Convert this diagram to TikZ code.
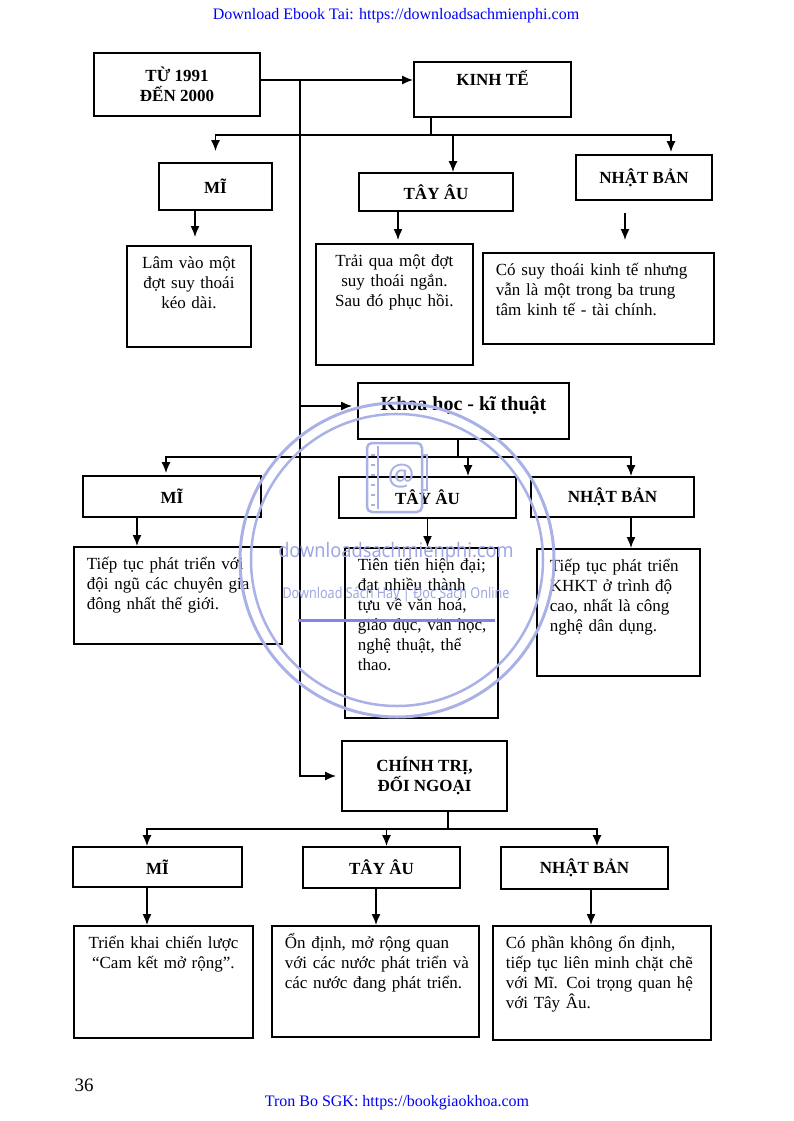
\documentclass[tikz,border=0pt]{standalone}
\usepackage{fontspec}
\setmainfont{Liberation Serif}
\newfontfamily\dauanfont{Noto Sans}
\usepackage{xcolor}
\usetikzlibrary{arrows.meta,calc}
\definecolor{dauan}{RGB}{170,177,230}
\definecolor{dauanchu}{RGB}{158,166,228}
\definecolor{xanh}{RGB}{0,0,245}
\newcommand{\dong}[1]{\makebox[\linewidth][s]{#1}}

\begin{document}
\begin{tikzpicture}[x=1pt,y=-1pt,
  hop/.style={draw,line width=1.8pt,inner sep=0pt,align=center,font=\bfseries\fontsize{17}{20}\selectfont},
  noidung/.style={draw,line width=1.8pt,anchor=north west,inner xsep=13pt,inner ysep=0pt,text height=23pt,font=\fontsize{17}{20}\selectfont},
  noi/.style={line width=1.5pt},
  muiten/.style={noi,-{Latex[length=11pt,width=9pt]}}]
  \useasboundingbox (0,0) rectangle (793,1121);
  \node[text=xanh,font=\fontsize{16}{18}\selectfont] (dau) at (396,16) {Download Ebook Tai: https://downloadsachmienphi.com};
  \node[text=xanh,font=\fontsize{16}{18}\selectfont] (cuoi) at (397,1103) {Tron Bo SGK: https://bookgiaokhoa.com};
  \node[font=\fontsize{19}{20}\selectfont] (trang) at (84,1085) {36};

  \node[hop,minimum width=166,minimum height=63] (goc) at (177,84.5) {TỪ 1991\\ĐẾN 2000};
  \node[hop,minimum width=157,minimum height=55,text height=12pt,text depth=19pt] (kinhte) at (492.5,89.5) {KINH TẾ};
  \node[hop,minimum width=113,minimum height=47] (mi1) at (215.5,186.5) {MĨ};
  \node[hop,minimum width=154,minimum height=38] (tayau1) at (436,192) {TÂY ÂU};
  \node[hop,minimum width=136,minimum height=45] (nhat1) at (644,177.5) {NHẬT BẢN};
  \node[noidung,align=center,text width=98pt,text depth=78pt] (lam) at (126,245) {Lâm vào một\\đợt suy thoái\\kéo dài.};
  \node[noidung,align=center,text width=131pt,text depth=98pt] (traiqua) at (315,243) {Trải qua một đợt\\suy thoái ngắn.\\Sau đó phục hồi.};
  \node[noidung,align=left,text width=205pt,text depth=68pt] (cosuy) at (482,252) {\dong{Có suy thoái kinh tế nhưng}\\\dong{vẫn là một trong ba trung}\\tâm kinh tế - tài chính.};

  \node[hop,minimum width=211,minimum height=56,font=\bfseries\fontsize{20}{22}\selectfont,text height=12pt,text depth=14pt] (khoahoc) at (463.5,411) {Khoa học - kĩ thuật};
  \node[hop,minimum width=178,minimum height=41] (mi2) at (172,496.5) {MĨ};
  \node[hop,minimum width=177,minimum height=41] (tayau2) at (427.5,497.5) {TÂY ÂU};
  \node[hop,minimum width=163,minimum height=40] (nhat2) at (612.5,497) {NHẬT BẢN};
  \node[noidung,align=left,text width=182pt,text depth=74pt] (tieptuc1) at (73,546) {\dong{Tiếp tục phát triển với}\\\dong{đội ngũ các chuyên gia}\\đông nhất thế giới.};
  \node[noidung,align=left,text width=127pt,text depth=147pt] (tientien) at (344,547) {\dong{Tiên tiến hiện đại;}\\\dong{đạt nhiều thành}\\\dong{tựu về văn hoá,}\\\dong{giáo dục, văn học,}\\\dong{nghệ thuật, thể}\\thao.};
  \node[noidung,align=left,text width=137pt,text depth=104pt] (tieptuc2) at (536,548) {\dong{Tiếp tục phát triển}\\\dong{KHKT ở trình độ}\\\dong{cao, nhất là công}\\nghệ dân dụng.};

  \node[hop,minimum width=165,minimum height=70] (chinhtri) at (424.5,776) {CHÍNH TRỊ,\\ĐỐI NGOẠI};
  \node[hop,minimum width=169,minimum height=40] (mi3) at (157.5,867) {MĨ};
  \node[hop,minimum width=157,minimum height=41] (tayau3) at (381.5,867.5) {TÂY ÂU};
  \node[hop,minimum width=167,minimum height=42] (nhat3) at (584.5,868) {NHẬT BẢN};
  \node[noidung,align=center,text width=153pt,text depth=89pt] (trienkhai) at (73,925) {Triển khai chiến lược\\“Cam kết mở rộng”.};
  \node[noidung,align=left,text width=181pt,text depth=88pt] (ondinh) at (271,925) {\dong{Ổn định, mở rộng quan}\\\dong{với các nước phát triển và}\\các nước đang phát triển.};
  \node[noidung,align=left,text width=192pt,text depth=91pt] (cophan) at (492,925) {\dong{Có phần không ổn định,}\\\dong{tiếp tục liên minh chặt chẽ}\\\dong{với Mĩ. Coi trọng quan hệ}\\với Tây Âu.};

  % 主干线
  \coordinate (truc) at (300,80);
  \draw[muiten] (goc.east |- truc) -- (kinhte.west |- truc);
  \draw[muiten,shorten >=5pt] (truc) |- (chinhtri.west);
  \coordinate (k1) at ([yshift=5pt]khoahoc.west);
  \draw[muiten,shorten >=5pt] (truc |- k1) -- (k1);

  % 经济
  \coordinate (nga1) at (431,135);
  \draw[noi] (kinhte.south -| nga1) -- (nga1);
  \draw[muiten,shorten >=11pt] (nga1) -| (mi1.north);
  \draw[muiten] (nga1) -| ([xshift=17pt]tayau1.north);
  \draw[muiten,shorten >=2pt] (nga1) -| ([xshift=27pt]nhat1.north);
  \coordinate (x1) at ([xshift=-20.5pt]mi1.south);
  \coordinate (x2) at ([xshift=-38pt]tayau1.south);
  \coordinate (x3) at ([xshift=-19pt]nhat1.south);
  \draw[muiten,shorten >=8pt] (x1) -- (x1 |- lam.north);
  \draw[muiten,shorten >=3pt] (x2) -- (x2 |- traiqua.north);
  \draw[muiten,shorten <=12pt,shorten >=12pt] (x3) -- (x3 |- cosuy.north);

  % 科技
  \coordinate (nga2) at (458,457);
  \draw[noi] (khoahoc.south -| nga2) -- (nga2);
  \draw[muiten,shorten >=2pt] (nga2) -| ([xshift=-6pt]mi2.north);
  \draw[muiten] (nga2) -| ([xshift=40.5pt]tayau2.north);
  \draw[muiten] (nga2) -| ([xshift=18.5pt]nhat2.north);
  \coordinate (y1) at ([xshift=-35pt]mi2.south);
  \coordinate (y3) at ([xshift=18.5pt]nhat2.south);
  \draw[muiten] (y1) -- (y1 |- tieptuc1.north);
  \draw[muiten] (tayau2.south) -- (tayau2.south |- tientien.north);
  \draw[muiten] (y3) -- (y3 |- tieptuc2.north);

  % 政治
  \coordinate (nga3) at (448,829);
  \draw[noi] (chinhtri.south -| nga3) -- (nga3);
  \draw[muiten] (nga3) -| ([xshift=-10.5pt]mi3.north);
  \draw[muiten] (nga3) -| ([xshift=5pt]tayau3.north);
  \draw[muiten] (nga3) -| ([xshift=12.5pt]nhat3.north);
  \coordinate (z1) at ([xshift=-10.5pt]mi3.south);
  \coordinate (z2) at ([xshift=-5.5pt]tayau3.south);
  \coordinate (z3) at ([xshift=6.5pt]nhat3.south);
  \draw[muiten] (z1) -- (z1 |- trienkhai.north);
  \draw[muiten] (z2) -- (z2 |- ondinh.north);
  \draw[muiten] (z3) -- (z3 |- cophan.north);

  % 水印
  \draw[dauan,line width=3pt] (397,560) circle [radius=157];
  \draw[dauan,line width=2.5pt] (397,560) circle [radius=146];
  \draw[dauan!75!blue,line width=3pt] (298,620) -- (495,620);
  \node[text=dauanchu,font=\dauanfont\fontsize{20}{22}\selectfont] (wm1) at (396,552) {\scalebox{0.91}[1]{downloadsachmienphi.com}};
  \node[text=dauanchu,font=\dauanfont\fontsize{15}{17}\selectfont] (wm2) at (396,595) {\scalebox{0.84}[1]{Download Sách Hay | Đọc Sách Online}};
  \draw[dauan,line width=2.5pt,rounded corners=5pt] (367,443) rectangle (422,512);
  \draw[dauan,line width=2pt] (378,446) -- (378,509);
  \foreach \y in {455,465,...,505} \draw[dauan,line width=1.5pt] (371,\y) -- (375,\y);
  \draw[dauan,line width=2pt] (422,455) -- (427,455) -- (427,490) -- (422,490);
  \node[text=dauan,font=\dauanfont\fontsize{30}{30}\selectfont] (acong) at (401,476) {@};
\end{tikzpicture}
\end{document}
